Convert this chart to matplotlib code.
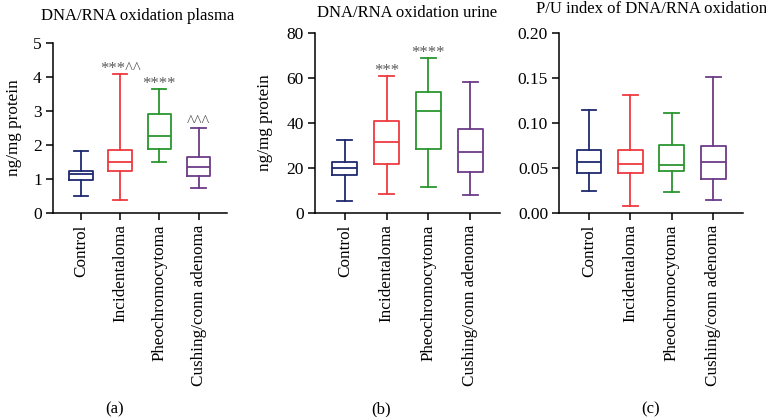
import matplotlib
matplotlib.use("Agg")
import matplotlib.pyplot as plt

plt.rcParams["font.family"] = ["Liberation Serif", "DejaVu Serif"]

groups = ["Control", "Incidentaloma", "Pheochromocytoma", "Cushing/conn adenoma"]
colors = ["#1f2a6e", "#ee3a3f", "#2a962e", "#6b3c88"]

# whisker low, Q1, median, Q3, whisker high
plasma = [
    [0.51, 0.98, 1.15, 1.24, 1.81],
    [0.39, 1.23, 1.51, 1.84, 4.08],
    [1.49, 1.89, 2.27, 2.90, 3.64],
    [0.73, 1.09, 1.36, 1.64, 2.51],
]
urine = [
    [5.2, 16.9, 19.9, 22.7, 32.3],
    [8.6, 21.9, 31.7, 40.7, 60.7],
    [11.4, 28.4, 45.2, 53.6, 68.9],
    [7.9, 18.1, 27.0, 37.5, 58.1],
]
pu_index = [
    [0.025, 0.044, 0.0567, 0.0696, 0.114],
    [0.008, 0.0448, 0.054, 0.0696, 0.1315],
    [0.023, 0.0467, 0.0537, 0.0756, 0.1115],
    [0.014, 0.038, 0.0567, 0.0748, 0.151],
]
plasma_marks = ["", "***^^", "****", "^^^"]
urine_marks = ["", "***", "****", ""]
pu_marks = ["", "", "", ""]

panels = [
    dict(data=plasma, marks=plasma_marks, title="DNA/RNA oxidation plasma",
         ylim=(0, 5), yticks=[0, 1, 2, 3, 4, 5], fmt="{:g}", ylabel="ng/mg protein",
         rect=[0.069, 0.489, 0.227, 0.408], tag="(a)", tag_x=0.150,
         title_x=0.180, title_y=0.962, ylab_x=-0.225),
    dict(data=urine, marks=urine_marks, title="DNA/RNA oxidation urine",
         ylim=(0, 80), yticks=[0, 20, 40, 60, 80], fmt="{:g}", ylabel="ng/mg protein",
         rect=[0.411, 0.489, 0.242, 0.432], tag="(b)", tag_x=0.497,
         title_x=0.532, title_y=0.969, ylab_x=-0.27),
    dict(data=pu_index, marks=pu_marks, title="P/U index of DNA/RNA oxidation",
         ylim=(0, 0.20), yticks=[0, 0.05, 0.10, 0.15, 0.20], fmt="{:.2f}", ylabel=None,
         rect=[0.730, 0.489, 0.240, 0.432], tag="(c)", tag_x=0.849,
         title_x=0.850, title_y=0.979, ylab_x=None),
]

fig = plt.figure(figsize=(7.66, 4.17), dpi=100)

for p in panels:
    ax = fig.add_axes(p["rect"])
    stats = []
    for lo, q1, med, q3, hi in p["data"]:
        stats.append(dict(whislo=lo, q1=q1, med=med, q3=q3, whishi=hi, fliers=[]))
    bp = ax.bxp(stats, positions=range(4), widths=0.6, showfliers=False,
                patch_artist=False, capwidths=0.36)
    for i, c in enumerate(colors):
        arts = [bp["boxes"][i], bp["medians"][i]]
        arts += bp["whiskers"][2 * i:2 * i + 2] + bp["caps"][2 * i:2 * i + 2]
        for art in arts:
            art.set_color(c)
            art.set_linewidth(1.3)
    for i, m in enumerate(p["marks"]):
        if m:
            ax.annotate(m, (i, p["data"][i][4]), xytext=(0, 1), textcoords="offset points",
                        ha="center", va="baseline", fontsize=12, color="#5a5a5a")
    ax.set_xlim(-0.72, 3.72)
    ax.set_ylim(*p["ylim"])
    ax.set_yticks(p["yticks"])
    ax.set_yticklabels([p["fmt"].format(v) for v in p["yticks"]], fontsize=12.5)
    ax.set_xticks(range(4))
    ax.set_xticklabels(groups, rotation=90, fontsize=12.3)
    ax.spines["top"].set_visible(False)
    ax.spines["right"].set_visible(False)
    ax.spines["left"].set_linewidth(1.1)
    ax.spines["bottom"].set_linewidth(1.1)
    ax.tick_params(direction="out", length=5, width=1.1, pad=3)
    if p["ylabel"]:
        ax.set_ylabel(p["ylabel"], fontsize=12.3, va="center")
        ax.yaxis.set_label_coords(p["ylab_x"], 0.5)
    fig.text(p["title_x"], p["title_y"], p["title"], ha="center", va="center", fontsize=12)
    fig.text(p["tag_x"], 0.018, p["tag"], ha="center", va="center", fontsize=12)

fig.savefig("out.png", dpi=100)
